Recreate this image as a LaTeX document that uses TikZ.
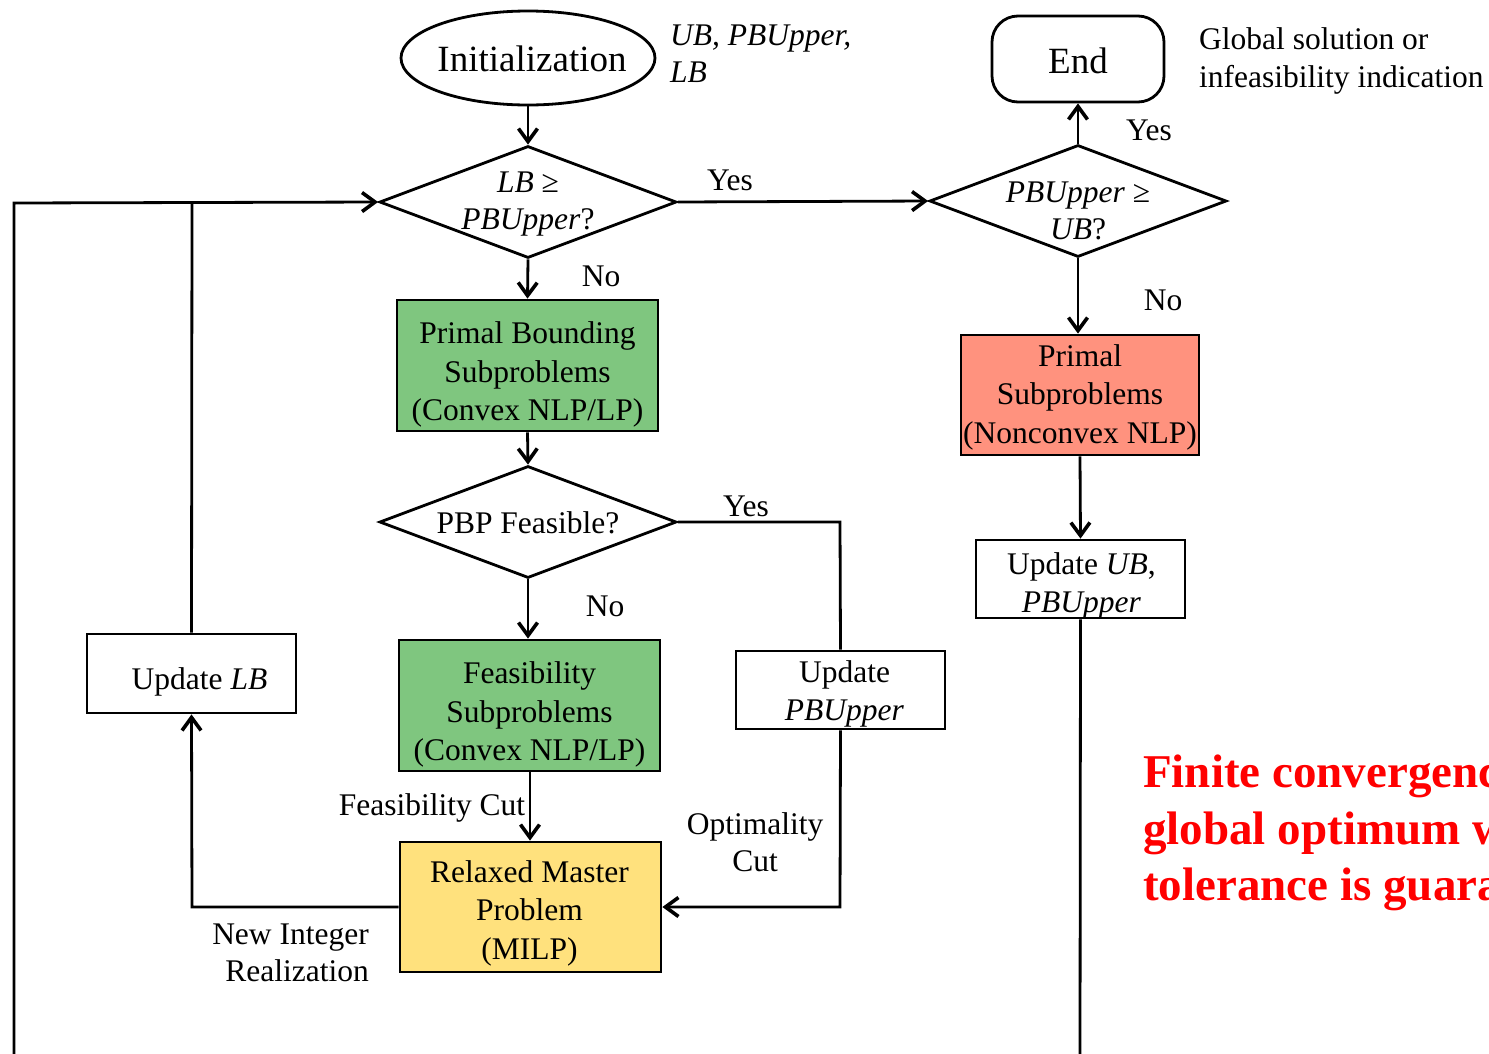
\documentclass[tikz,border=0pt]{standalone}
\usepackage{fontspec}
\setmainfont{Liberation Serif}
\usetikzlibrary{shapes.geometric,arrows.meta}
\definecolor{boxgreen}{RGB}{127,198,127}
\definecolor{boxsalmon}{RGB}{255,146,126}
\definecolor{boxyellow}{RGB}{255,225,125}
\begin{document}
\begin{tikzpicture}[x=1pt,y=-1pt,
  every node/.style={font=\fontsize{31.5}{37.5}\selectfont},
  line/.style={line width=2.8pt},
  arr/.style={line width=2.8pt,-{Straight Barb[length=13pt,width=19pt,line width=3.6pt]}},
  procbox/.style={draw,line width=2.8pt,rectangle,inner sep=0pt},
  decide/.style={draw,line width=2.8pt,diamond,inner sep=0pt,minimum width=297pt,minimum height=112pt},
  lbl/.style={inner sep=0pt,align=center},
  boxtext/.style={inner sep=0pt,align=center,font=\fontsize{31.5}{38.5}\selectfont}
]
\useasboundingbox (0,0) rectangle (1489,1053);
\clip (0,0) rectangle (1489,1053);
\fill[white] (0,0) rectangle (1489,1053);

% nodes
\node[draw,line width=2.8pt,ellipse,minimum width=254pt,minimum height=94pt,inner sep=0pt,
  label={[lbl,xshift=4pt,yshift=-1pt,font=\fontsize{37}{44}\selectfont]center:Initialization}] (init) at (528,58) {};
\node[draw,line width=2.8pt,rectangle,rounded corners=26pt,minimum width=172pt,minimum height=86pt,inner sep=0pt,
  label={[lbl,yshift=-2pt,font=\fontsize{37}{44}\selectfont]center:End}] (end) at (1078,59) {};

\node[decide,label={[lbl,yshift=-2pt]center:\textit{LB} ≥\\\textit{PBUpper}?}] (d1) at (528,202) {};
\node[decide,label={[lbl,yshift=-10pt]center:\textit{PBUpper} ≥\\\textit{UB}?}] (d2) at (1078,201) {};
\node[decide,label={[lbl,yshift=-1pt]center:PBP Feasible?}] (d3) at (528,522) {};

\node[procbox,fill=boxgreen,minimum width=261pt,minimum height=131pt,
  label={[boxtext,yshift=-9pt]center:Primal Bounding\\Subproblems\\(Convex NLP/LP)}] (pbs) at (527.5,365.5) {};
\node[procbox,fill=boxsalmon,minimum width=238pt,minimum height=120pt,
  label={[boxtext,yshift=-2pt]center:Primal\\Subproblems\\(Nonconvex NLP)}] (ps) at (1080,395) {};
\node[procbox,minimum width=209pt,minimum height=78pt,
  label={[boxtext,yshift=-7pt,xshift=1pt]center:Update \textit{UB},\\\textit{PBUpper}}] (uub) at (1080.5,579) {};
\node[procbox,fill=boxgreen,minimum width=261pt,minimum height=131pt,
  label={[boxtext,yshift=-9pt]center:Feasibility\\Subproblems\\(Convex NLP/LP)}] (fs) at (529.5,705.5) {};
\node[procbox,minimum width=209pt,minimum height=78pt,
  label={[boxtext,yshift=-4pt,xshift=4pt]center:Update\\\textit{PBUpper}}] (upb) at (840.5,690) {};
\node[procbox,minimum width=209pt,minimum height=79pt,
  label={[boxtext,yshift=-8pt,xshift=8pt]center:Update \textit{LB}}] (ulb) at (191.5,673.5) {};
\node[procbox,fill=boxyellow,minimum width=261pt,minimum height=130pt,
  label={[boxtext,yshift=-6pt,xshift=-1pt]center:Relaxed Master\\Problem\\(MILP)}] (rmp) at (530.5,907) {};

% labels
\node[lbl,anchor=west,align=left,font=\fontsize{31.5}{37}\itshape] (tinit) at (670,54) {UB, PBUpper,\\LB};
\node[lbl,anchor=west,align=left] (tend) at (1199,61) {Global solution or\\infeasibility indication};
\node[lbl] (y1) at (730,180) {Yes};
\node[lbl] (y2) at (1149,130) {Yes};
\node[lbl] (n1) at (601,276) {No};
\node[lbl] (n2) at (1163,300) {No};
\node[lbl] (y3) at (746,506) {Yes};
\node[lbl] (n3) at (605,606) {No};
\node[lbl] (tfc) at (432,808) {Feasibility Cut};
\node[lbl] (toc) at (755,842) {Optimality\\Cut};
\node[lbl,anchor=east,align=right] (tnir) at (369,953) {New Integer\\Realization};
\node[lbl,anchor=north west,align=left,text=red,font=\fontsize{47}{56.5}\selectfont\bfseries] (tred) at (1143,755)
  {Finite convergence to\\global optimum within\\tolerance is guaranteed};

% helper coordinates
\coordinate (lefttop) at (14,203);
\coordinate (leftbot) at (14,1060);
\coordinate (ulbtop) at (192,203);
\coordinate (yescorner) at (840,522);
\coordinate (optcorner) at (840,907);
\coordinate (nircorner) at (192,907);
\coordinate (rightbot) at (1080,1060);

% connectors
\draw[arr] (init.south) -- (d1.north);
\draw[arr] (d1.south) -- (pbs.north);
\draw[arr] (pbs.south) -- (d3.north);
\draw[arr] (d3.south) -- (fs.north -| d3.south);
\draw[arr] (fs.south -| 530,0) -- (rmp.north -| 530,0);
\draw[arr] (d1.east) -- (d2.west);
\draw[arr] (d2.north) -- (end.south);
\draw[arr] (d2.south) -- (ps.north -| d2.south);
\draw[arr] (ps.south) -- (uub.north);
\draw[line] (uub.south) -- (rightbot);
\draw[line] (d3.east) -- (yescorner) -- (upb.north);
\draw[arr] (upb.south) -- (optcorner) -- (rmp.east);
\draw[arr] (rmp.west) -- (nircorner) -- (ulb.south);
\draw[line] (ulb.north) -- (ulbtop);
\draw[arr] (leftbot) -- (lefttop) -- (d1.west);
\end{tikzpicture}
\end{document}
